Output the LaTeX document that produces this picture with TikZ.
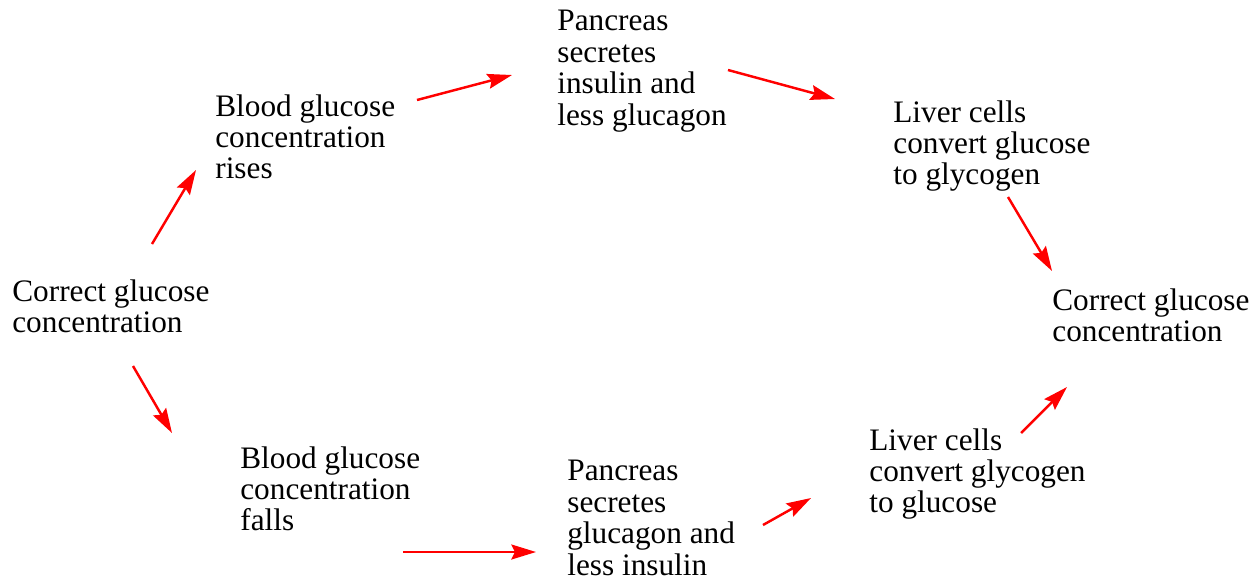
\documentclass[tikz,border=0pt]{standalone}
\usepackage{fontspec}
\setmainfont{Liberation Serif}
\usepackage{tikz}
\usetikzlibrary{arrows.meta}

\begin{document}
\begin{tikzpicture}[x=0.02cm,y=-0.02cm,
    stage/.style={anchor=north west,inner sep=0pt,align=left,
      font=\fontsize{17.8pt}{17.9pt}\selectfont},
    feedback/.style={red,line width=1.4pt,
      -{Stealth[length=14pt,width=8.5pt,inset=2pt]}}]
    \useasboundingbox (0,0) rectangle (1256,579);
    \node[stage] (normal-left) at (12,279) {Correct glucose\\concentration};
    \node[stage] (rises) at (215,94) {Blood glucose\\concentration\\rises};
    \node[stage] (insulin) at (557,10) {Pancreas\\secretes\\insulin and\\less glucagon};
    \node[stage] (to-glycogen) at (893,100) {Liver cells\\convert glucose\\to glycogen};
    \node[stage] (normal-right) at (1052,288) {Correct glucose\\concentration};
    \node[stage] (falls) at (240,446) {Blood glucose\\concentration\\falls};
    \node[stage] (glucagon) at (567,460) {Pancreas\\secretes\\glucagon and\\less insulin};
    \node[stage] (to-glucose) at (869,428) {Liver cells\\convert glycogen\\to glucose};

    \coordinate (rise-tail) at (152,244);
    \coordinate (rise-tip) at (196,170);
    \coordinate (insulin-tail) at (417,100);
    \coordinate (insulin-tip) at (512,75);
    \coordinate (store-tail) at (728,70);
    \coordinate (store-tip) at (835,99);
    \coordinate (back-up-tail) at (1008,197);
    \coordinate (back-up-tip) at (1052,271);
    \coordinate (fall-tail) at (133,366);
    \coordinate (fall-tip) at (172,433);
    \coordinate (glucagon-tail) at (403,552);
    \coordinate (glucagon-tip) at (536,552);
    \coordinate (release-tail) at (763,525);
    \coordinate (release-tip) at (811,498);
    \coordinate (back-down-tail) at (1021,433);
    \coordinate (back-down-tip) at (1067,387);

    \draw[feedback] (rise-tail) -- (rise-tip);
    \draw[feedback] (insulin-tail) -- (insulin-tip);
    \draw[feedback] (store-tail) -- (store-tip);
    \draw[feedback] (back-up-tail) -- (back-up-tip);
    \draw[feedback] (fall-tail) -- (fall-tip);
    \draw[feedback] (glucagon-tail) -- (glucagon-tip);
    \draw[feedback] (release-tail) -- (release-tip);
    \draw[feedback] (back-down-tail) -- (back-down-tip);
\end{tikzpicture}
\end{document}
